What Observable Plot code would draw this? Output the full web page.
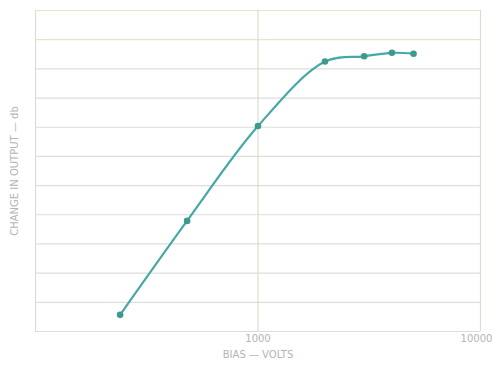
<!DOCTYPE html>
<html>
<head>
<meta charset="utf-8">
<script src="https://cdn.jsdelivr.net/npm/d3@7"></script>
<script src="https://cdn.jsdelivr.net/npm/@observablehq/plot@0.6"></script>
<style>
  html, body { margin: 0; padding: 0; background: #fff; }
  #chart { width: 494px; height: 370px; }
</style>
</head>
<body>
<div id="chart"></div>
<script>
// Bias voltage (log scale) and measured change in output (db)
const biasVolts = [240, 480, 1000, 2000, 3000, 4000, 5000];
const changeDb  = [0.57, 3.79, 7.04, 9.25, 9.43, 9.55, 9.52];
const gridDb = [0, 1, 2, 3, 4, 5, 6, 7, 8, 9, 10, 11];
const gridVolts = [100, 1000, 10000];
const xTickValues = [1000, 10000];
const xTickLabels = ["1000", "10000"];

const data = biasVolts.map((v, i) => ({v, db: changeDb[i]}));
const ticks = xTickValues.map((v, i) => ({v, label: xTickLabels[i], last: i === xTickValues.length - 1}));

const chart = Plot.plot({
  width: 494,
  height: 370,
  marginLeft: 35,
  marginRight: 14,
  marginTop: 10,
  marginBottom: 39,
  style: {fontFamily: "DejaVu Sans, sans-serif", fontSize: "10px", background: "#fff"},
  x: {type: "log", domain: [100, 10000]},
  y: {domain: [0, 11]},
  marks: [
    Plot.ruleY(gridDb, {y: d => d, stroke: d => d >= 10 ? "#e6e6c6" : "#dddddd", strokeWidth: 1.2}),
    Plot.ruleX(gridVolts, {x: d => d, stroke: "#dcdcd0", strokeWidth: 1.2}),
    Plot.text(ticks.filter(d => !d.last), {x: "v", text: "label", frameAnchor: "bottom", dy: 10,
      textAnchor: "middle", fill: "#b4b4b4"}),
    Plot.text(ticks.filter(d => d.last), {x: "v", text: "label", frameAnchor: "bottom", dy: 10, dx: -4,
      textAnchor: "middle", fill: "#b4b4b4"}),
    Plot.axisX([], {
      tickSize: 0, fill: "#b4b4b4",
      label: "BIAS — VOLTS", labelAnchor: "center", labelArrow: "none", labelOffset: 26
    }),
    Plot.axisY([], {
      label: "CHANGE IN OUTPUT — db", labelAnchor: "center", labelArrow: "none", labelOffset: 25,
      fill: "#b4b4b4", tickSize: 0
    }),
    Plot.line(data, {x: "v", y: "db", stroke: "#45aaa3", strokeWidth: 2.2, curve: "catmull-rom"}),
    Plot.dot(data, {x: "v", y: "db", r: 3.3, fill: "#3c9a8e", stroke: "none"})
  ]
});
document.getElementById("chart").appendChild(chart);
</script>
</body>
</html>
